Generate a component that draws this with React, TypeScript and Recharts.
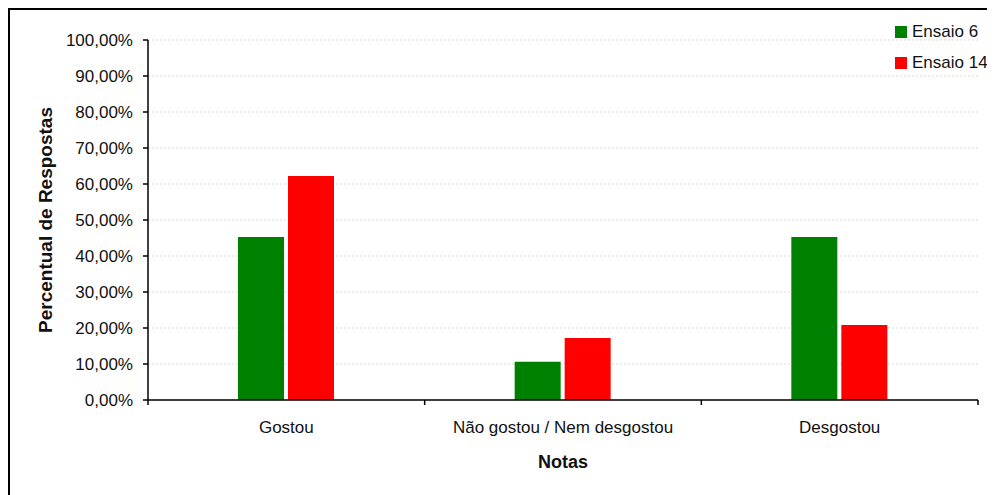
import React from "react"
import { BarChart, Bar, XAxis, YAxis, CartesianGrid, Label } from "recharts"

// survey answers, percent of respondents per rating
const categories = ["Gostou", "Não gostou / Nem desgostou", "Desgostou"]
const ensaio6 = [45.3, 10.6, 45.3]
const ensaio14 = [62.2, 17.2, 20.8]
const yTicks = [0, 10, 20, 30, 40, 50, 60, 70, 80, 90, 100]

const series = [
  { key: "ensaio6", label: "Ensaio 6", color: "#008000" },
  { key: "ensaio14", label: "Ensaio 14", color: "#ff0000" },
]

const data = categories.map((label, i) => ({
  label,
  ensaio6: ensaio6[i],
  ensaio14: ensaio14[i],
}))

const FONT = "'Liberation Sans', Arial, sans-serif"
const CHART_W = 979
const CHART_H = 488
const MARGIN = { top: 30, right: 11, left: 0, bottom: 30 }
const YAXIS_W = 138
const BAND = (CHART_W - MARGIN.left - MARGIN.right - YAXIS_W) / categories.length

const fmtPct = (v: number) => v.toFixed(2).replace(".", ",") + "%"

function CategoryTick(props: any) {
  const { x, y, payload, index } = props
  const left = x - BAND / 2
  const right = x + BAND / 2
  return (
    <g>
      <line x1={left} y1={y} x2={left} y2={y + 5} stroke="#000" strokeWidth={1.5} />
      {index === categories.length - 1 && (
        <line x1={right} y1={y} x2={right} y2={y + 5} stroke="#000" strokeWidth={1.5} />
      )}
      <text x={x} y={y + 27} dy="0.35em" textAnchor="middle" fontSize={17} fill="#111" fontFamily={FONT}>
        {payload.value}
      </text>
    </g>
  )
}

export default function App() {
  return (
    <div
      style={{
        position: "relative",
        width: 983,
        height: 492,
        border: "2px solid #000",
        boxSizing: "border-box",
        fontFamily: FONT,
      }}
    >
      <BarChart width={CHART_W} height={CHART_H} data={data} margin={MARGIN} barSize={46} barGap={4}>
        <CartesianGrid vertical={false} stroke="#d9d9d9" strokeDasharray="2 2" />
        <XAxis
          dataKey="label"
          height={68}
          axisLine={{ stroke: "#000", strokeWidth: 1.5 }}
          tickLine={false}
          tickSize={0}
          tickMargin={0}
          interval={0}
          tick={<CategoryTick />}
        >
          <Label
            value="Notas"
            position="insideBottom"
            offset={0}
            style={{ fontSize: 18, fontWeight: "bold", fill: "#111", fontFamily: FONT }}
          />
        </XAxis>
        <YAxis
          width={YAXIS_W}
          domain={[0, 100]}
          ticks={yTicks}
          interval={0}
          tickFormatter={fmtPct}
          axisLine={{ stroke: "#000", strokeWidth: 1.5 }}
          tickLine={{ stroke: "#000", strokeWidth: 1.5 }}
          tickSize={5}
          tickMargin={10}
          tick={{ fontSize: 17, fill: "#111", fontFamily: FONT }}
        >
          <Label
            content={({ viewBox }: any) => {
              const cy = viewBox.y + viewBox.height / 2
              return (
                <text
                  x={35}
                  y={cy}
                  transform={`rotate(-90, 35, ${cy})`}
                  textAnchor="middle"
                  dominantBaseline="central"
                  fontSize={19}
                  fontWeight="bold"
                  fill="#111"
                  fontFamily={FONT}
                >
                  Percentual de Respostas
                </text>
              )
            }}
          />
        </YAxis>
        {series.map((s) => (
          <Bar key={s.key} dataKey={s.key} name={s.label} fill={s.color} isAnimationActive={false} />
        ))}
      </BarChart>
      <div style={{ position: "absolute", left: 885, top: 6 }}>
        {series.map((s) => (
          <div key={s.key} style={{ display: "flex", alignItems: "center", height: 31 }}>
            <span style={{ width: 12, height: 12, background: s.color, marginRight: 5 }} />
            <span style={{ fontSize: 17, color: "#111" }}>{s.label}</span>
          </div>
        ))}
      </div>
    </div>
  )
}
